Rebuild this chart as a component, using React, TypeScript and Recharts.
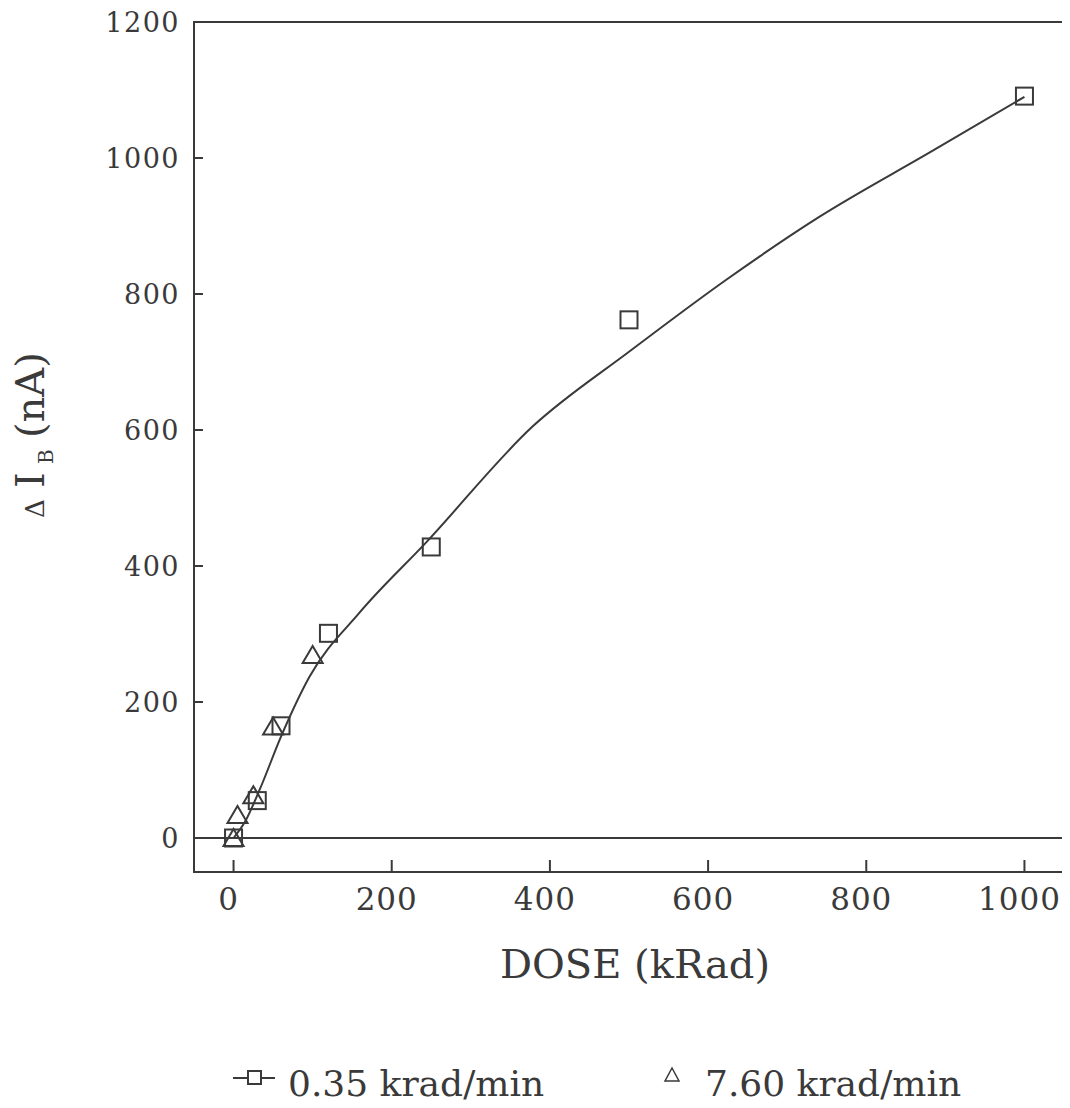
import {
  ComposedChart,
  Line,
  Scatter,
  XAxis,
  YAxis,
  ReferenceLine,
  ReferenceArea,
  Legend,
  Label,
} from 'recharts';

// 0.35 krad/min (squares)
const lowRateDose = [0, 30, 60, 120, 250, 500, 1000];
const lowRateDelta = [0, 55, 165, 301, 428, 762, 1091];

// 7.60 krad/min (triangles)
const highRateDose = [0, 5, 25, 50, 100];
const highRateDelta = [0, 34, 63, 164, 269];

// smooth fit curve
const fitDose = [0, 15, 33, 60, 96, 159, 243, 378, 500, 623, 740, 883, 1000];
const fitDelta = [0, 25, 71, 149, 237, 331, 434, 605, 715, 821, 913, 1010, 1090];

const xTicks = [0, 200, 400, 600, 800, 1000];
const yTicks = [0, 200, 400, 600, 800, 1000, 1200];

const squares = lowRateDose.map((x, i) => ({ x, y: lowRateDelta[i] }));
const triangles = highRateDose.map((x, i) => ({ x, y: highRateDelta[i] }));
const fit = fitDose.map((x, i) => ({ x, y: fitDelta[i] }));

const INK = '#3a3a3a';
const FONT = 'DejaVu Serif, Liberation Serif, serif';

const SquareMark = (props: any) => {
  const { cx, cy } = props;
  return <rect x={cx - 8.5} y={cy - 8.5} width={17} height={17} fill="none" stroke={INK} strokeWidth={2} />;
};

const TriangleMark = (props: any) => {
  const { cx, cy } = props;
  return (
    <polygon
      points={`${cx - 10},${cy + 8} ${cx + 10},${cy + 8} ${cx},${cy - 9}`}
      fill="none"
      stroke={INK}
      strokeWidth={2}
    />
  );
};

const XTick = (props: any) => {
  const { x, y, payload } = props;
  return (
    <g>
      <line x1={x} y1={y} x2={x} y2={y - 12} stroke={INK} strokeWidth={2} />
      <text x={x - 5} y={y + 38} textAnchor="middle" fontFamily={FONT} fontSize={31} fill={INK} letterSpacing={1}>
        {payload.value}
      </text>
    </g>
  );
};

const YTick = (props: any) => {
  const { x, y, payload } = props;
  return (
    <g>
      <line x1={x} y1={y} x2={x + 9} y2={y} stroke={INK} strokeWidth={2} />
      <text x={x - 14} y={y + 10} textAnchor="end" fontFamily={FONT} fontSize={27} fill={INK} letterSpacing={1.5}>
        {payload.value}
      </text>
    </g>
  );
};

const LegendBox = () => (
  <svg width={1062} height={96} style={{ display: 'block' }}>
    <line x1={225} y1={66} x2={267} y2={66} stroke={INK} strokeWidth={2} />
    <rect x={240} y={59} width={13} height={13} fill="#fff" stroke={INK} strokeWidth={2} />
    <text x={280} y={84} fontFamily={FONT} fontSize={36} fill={INK}>
      0.35 krad/min
    </text>
    <polygon points="657,69 671,69 664,56" fill="none" stroke={INK} strokeWidth={1.5} />
    <text x={697} y={84} fontFamily={FONT} fontSize={36} fill={INK}>
      7.60 krad/min
    </text>
  </svg>
);

const XTitle = (props: any) => {
  const { viewBox } = props;
  return (
    <text x={viewBox.x + viewBox.width / 2 + 6} y={viewBox.y + 106} textAnchor="middle" fontFamily={FONT} fontSize={40} fill={INK}>
      DOSE (kRad)
    </text>
  );
};

// rotated y title, drawn in local coordinates along the axis
const YTitle = () => (
  <g transform="translate(36, 422) rotate(-90)" fontFamily={FONT} fill={INK}>
    <text x={-88} y={0} fontSize={26}>Δ</text>
    <text x={-58} y={0} fontSize={40}>I</text>
    <text x={-34} y={9} fontSize={20}>B</text>
    <text x={-8} y={0} fontSize={40}>(nA)</text>
  </g>
);

export default function App() {
  return (
    <div style={{ width: 1062, height: 1100 }}>
      <ComposedChart width={1062} height={1100} margin={{ top: 14, right: 6, bottom: 0, left: 0 }}>
        <XAxis
          type="number"
          dataKey="x"
          domain={[-50, 1050]}
          ticks={xTicks}
          interval={0}
          height={140}
          axisLine={false}
          tickLine={false}
          tickSize={0}
          tickMargin={0}
          tick={<XTick />}
        >
          <Label content={<XTitle />} />
        </XAxis>
        <YAxis
          type="number"
          dataKey="y"
          domain={[-50, 1200]}
          ticks={yTicks}
          interval={0}
          width={186}
          axisLine={false}
          tickLine={false}
          tickSize={0}
          tickMargin={0}
          tick={<YTick />}
        >
          <Label content={<YTitle />} />
        </YAxis>
        <ReferenceArea x1={-50} x2={1050} y1={-50} y2={1200} fill="none" stroke={INK} strokeWidth={2} />
        <ReferenceLine y={0} stroke={INK} strokeWidth={2} />
        <Line
          data={fit}
          dataKey="y"
          type="monotone"
          stroke={INK}
          strokeWidth={2}
          dot={false}
          isAnimationActive={false}
          legendType="none"
        />
        <Scatter data={squares} dataKey="y" shape={<SquareMark />} isAnimationActive={false} />
        <Scatter data={triangles} dataKey="y" shape={<TriangleMark />} isAnimationActive={false} />
        <Legend verticalAlign="bottom" content={<LegendBox />} />
      </ComposedChart>
    </div>
  );
}
